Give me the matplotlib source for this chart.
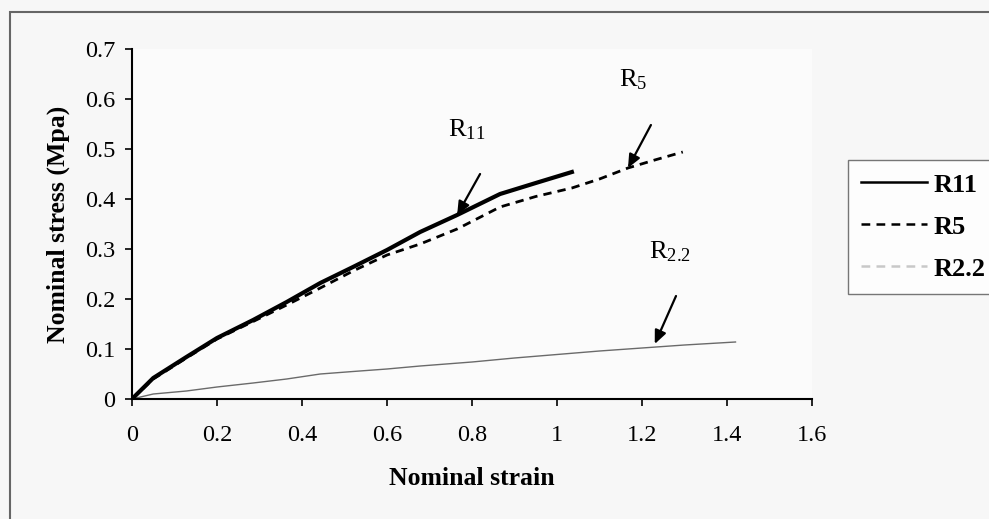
import matplotlib
matplotlib.use("Agg")
import matplotlib.pyplot as plt
from matplotlib.lines import Line2D
from matplotlib.patches import Rectangle

# ---- data ----
r11_x = [0, 0.05, 0.128, 0.2, 0.285, 0.364, 0.443, 0.52, 0.6, 0.678, 0.765, 0.866, 0.95, 1.035]
r11_y = [0, 0.042, 0.084, 0.122, 0.158, 0.194, 0.232, 0.264, 0.298, 0.334, 0.368, 0.41, 0.432, 0.454]

r5_x = [0, 0.05, 0.128, 0.2, 0.285, 0.364, 0.443, 0.52, 0.6, 0.678, 0.765, 0.866, 0.95, 1.035, 1.1, 1.167, 1.23, 1.296]
r5_y = [0, 0.04, 0.082, 0.12, 0.155, 0.188, 0.222, 0.256, 0.288, 0.31, 0.34, 0.384, 0.405, 0.422, 0.44, 0.462, 0.478, 0.494]

r22_x = [0, 0.05, 0.128, 0.2, 0.285, 0.364, 0.443, 0.52, 0.6, 0.678, 0.8, 0.9, 1.0, 1.1, 1.2, 1.3, 1.42]
r22_y = [0, 0.01, 0.016, 0.024, 0.032, 0.04, 0.05, 0.055, 0.06, 0.066, 0.074, 0.082, 0.089, 0.096, 0.102, 0.108, 0.114]

x_ticks = [0, 0.2, 0.4, 0.6, 0.8, 1.0, 1.2, 1.4, 1.6]
x_tick_labels = ["0", "0.2", "0.4", "0.6", "0.8", "1", "1.2", "1.4", "1.6"]
y_ticks = [0, 0.1, 0.2, 0.3, 0.4, 0.5, 0.6, 0.7]
y_tick_labels = ["0", "0.1", "0.2", "0.3", "0.4", "0.5", "0.6", "0.7"]

series_names = ["R11", "R5", "R2.2"]

# annotations: (label, text pos, arrow start, arrow tip)
ann_labels = [r"$\mathregular{R_{11}}$", r"$\mathregular{R_{5}}$", r"$\mathregular{R_{2.2}}$"]
ann_text_xy = [(0.788, 0.538), (1.179, 0.638), (1.266, 0.294)]
ann_start_xy = [(0.819, 0.45), (1.221, 0.548), (1.28, 0.206)]
ann_tip_xy = [(0.765, 0.368), (1.167, 0.462), (1.23, 0.11)]

plt.rcParams["font.family"] = ["Liberation Serif", "DejaVu Serif"]
plt.rcParams["mathtext.fontset"] = "custom"
plt.rcParams["mathtext.rm"] = "Liberation Serif"

fig = plt.figure(figsize=(9.89, 5.19), dpi=100, facecolor="#f7f7f7")
ax = fig.add_axes([132 / 989, 1 - 399 / 519, (812 - 132) / 989, (399 - 49) / 519])
ax.set_facecolor("#fbfbfb")

ax.plot(r22_x, r22_y, color="#6a6a6a", lw=1.0, zorder=2)
ax.plot(r5_x, r5_y, color="black", lw=2.0, ls=(0, (3, 2.2)), zorder=3)
ax.plot(r11_x, r11_y, color="black", lw=3.0, zorder=4)

ax.set_xlim(0, 1.6)
ax.set_ylim(0, 0.7)
ax.set_xticks(x_ticks)
ax.set_xticklabels(x_tick_labels)
ax.set_yticks(y_ticks)
ax.set_yticklabels(y_tick_labels)
ax.tick_params(axis="both", direction="out", length=5, width=1.2, labelsize=17.5, colors="black")
ax.tick_params(axis="x", pad=14)
ax.tick_params(axis="y", pad=7)

for s in ["top", "right"]:
    ax.spines[s].set_visible(False)
for s in ["left", "bottom"]:
    ax.spines[s].set_linewidth(1.5)

ax.set_xlabel("Nominal strain", fontsize=18.5, fontweight="bold", labelpad=15)
ax.set_ylabel("Nominal stress (Mpa)", fontsize=18.5, fontweight="bold", labelpad=11)

for lab, txy, sxy, exy in zip(ann_labels, ann_text_xy, ann_start_xy, ann_tip_xy):
    ax.text(txy[0], txy[1], lab, fontsize=19, ha="center", va="center")
    ax.annotate("", xy=exy, xytext=sxy,
                arrowprops=dict(arrowstyle="-|>,head_length=0.8,head_width=0.35",
                                color="black", lw=1.6, shrinkA=0, shrinkB=0))

handles = [
    Line2D([], [], color="black", lw=1.8),
    Line2D([], [], color="black", lw=1.8, ls=(0, (3.5, 2.5))),
    Line2D([], [], color="#c8c8c8", lw=1.8, ls=(0, (3.5, 2.5))),
]
leg = fig.legend(handles, series_names, loc="upper left",
                 bbox_to_anchor=(848 / 989, 1 - 160 / 519),
                 prop={"family": "Liberation Serif", "weight": "bold", "size": 19},
                 frameon=True, fancybox=False, edgecolor="#555555",
                 handlelength=2.5, handletextpad=0.25, labelspacing=0.7,
                 borderpad=0.5, borderaxespad=0)
leg.get_frame().set_linewidth(1.0)
leg.get_frame().set_facecolor("white")

# outer chart frame
fig.patches.append(Rectangle((10 / 989, -0.05), 1.1, 1 - 12 / 519 + 0.05,
                             transform=fig.transFigure, fill=False,
                             edgecolor="#666666", lw=1.5, clip_on=False))

fig.savefig("out.png", dpi=100, facecolor=fig.get_facecolor())
